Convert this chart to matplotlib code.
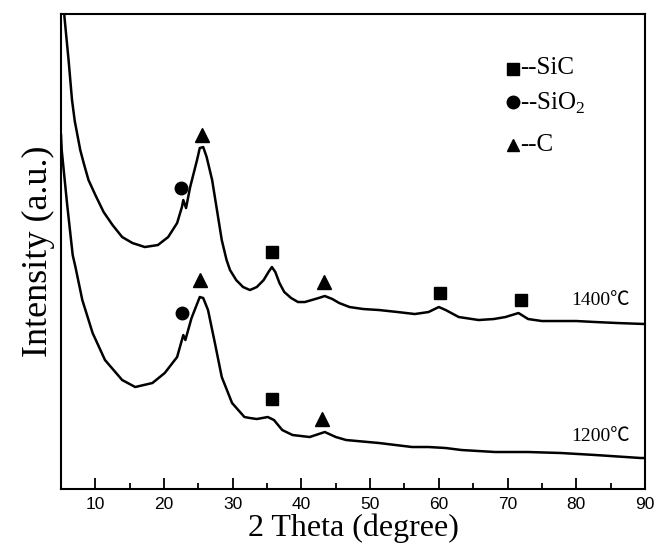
import matplotlib.pyplot as plt
from matplotlib.ticker import MultipleLocator

plt.rcParams['mathtext.fontset'] = 'custom'
plt.rcParams['mathtext.rm'] = 'Liberation Serif'

# ---------------------------------------------------------------
# XRD patterns, values (intensity in a.u.)
# ---------------------------------------------------------------
theta_1400 = [5.2, 5.5, 6.1, 6.6, 7.0, 7.8, 8.3, 9.0, 10.0, 11.2, 12.5, 13.9, 15.4, 17.2,
              19.1, 20.6, 21.9, 22.6, 22.8, 23.2, 23.8, 24.8, 25.2, 25.7, 26.2, 27.0,
              27.7, 28.4, 29.1, 29.6, 30.5, 31.5, 32.5, 33.5, 34.5, 35.2, 35.7, 36.2,
              36.8, 37.5, 38.5, 39.5, 40.5, 41.5, 42.5, 43.4, 44.5, 45.5, 47.0, 49.0,
              51.3, 54.0, 56.5, 58.5, 60.0, 61.0, 62.9, 65.8, 68.0, 69.7, 71.6, 73.0,
              75.0, 77.8, 80.0, 82.8, 86.0, 90.0]
int_1400 = [520, 472, 429, 389, 368, 339, 326, 309, 294, 277, 264, 252, 246, 242,
            244, 252, 266, 282, 289, 281, 302, 329, 341, 342, 332, 309,
            279, 249, 229, 219, 209, 202, 199, 202, 209, 217, 222, 217,
            206, 197, 191, 187, 187, 189, 191, 193, 190, 186, 182, 180,
            179, 177, 175, 177, 182, 179, 172, 169, 170, 172, 176, 170,
            168, 168, 168, 167, 166, 165]

theta_1200 = [5.0, 5.1, 5.9, 6.7, 7.1, 8.1, 9.6, 11.4, 13.9, 15.8, 18.3, 20.1, 21.9,
              22.8, 23.1, 24.0, 25.2, 25.7, 26.4, 27.4, 28.4, 29.9, 31.7, 32.5, 33.5,
              35.1, 36.0, 37.2, 38.7, 41.2, 43.4, 45.0, 46.5, 51.3, 56.1, 58.5, 61.0,
              63.3, 68.2, 73.0, 77.8, 82.8, 89.4, 90.0]
int_1200 = [354, 339, 284, 234, 222, 189, 156, 129, 109, 102, 106, 116, 132,
            154, 149, 171, 192, 191, 179, 146, 112, 86, 72, 71, 70,
            72, 69, 59, 54, 52, 57, 52, 49, 46, 42, 42, 41,
            39, 37, 37, 36, 34, 31, 31]

# phase markers (2 theta, intensity)
sic_x = [35.7, 60.1, 71.9, 35.7]
sic_y = [237, 196, 189, 90]
sio2_x = [22.5, 22.6]
sio2_y = [301, 176]
c_x = [25.5, 43.3, 25.2, 43.0]
c_y = [354, 207, 209, 70]

serif = ['Liberation Serif', 'Noto Sans CJK SC']

fig = plt.figure(figsize=(6.59, 5.51), dpi=100)
ax = fig.add_axes([0.0926, 0.1125, 0.886, 0.862])

ax.plot(theta_1400, int_1400, color='black', lw=1.8)
ax.plot(theta_1200, int_1200, color='black', lw=1.8)

ax.plot(sic_x, sic_y, 's', color='black', ms=8, ls='none')
ax.plot(sio2_x, sio2_y, 'o', color='black', ms=9, ls='none')
ax.plot(c_x, c_y, '^', color='black', ms=10, ls='none')

ax.text(87.8, 189, '1400℃', family=serif, fontsize=14, ha='right', va='center')
ax.text(87.8, 53, '1200℃', family=serif, fontsize=14, ha='right', va='center')

# hand made legend in upper right
leg_x = 0.774
ax.plot([leg_x], [0.884], 's', color='black', ms=8, transform=ax.transAxes, clip_on=False)
ax.plot([leg_x], [0.815], 'o', color='black', ms=9, transform=ax.transAxes, clip_on=False)
ax.plot([leg_x], [0.724], '^', color='black', ms=9, transform=ax.transAxes, clip_on=False)
ax.text(leg_x + 0.012, 0.886, '--SiC', family=serif, fontsize=18, va='center', transform=ax.transAxes)
ax.text(leg_x + 0.012, 0.812, '--SiO$_2$', family=serif, fontsize=18, va='center', transform=ax.transAxes)
ax.text(leg_x + 0.012, 0.724, '--C', family=serif, fontsize=18, va='center', transform=ax.transAxes)

ax.set_xlim(5, 90)
ax.set_ylim(0, 475)
ax.set_yticks([])
ax.xaxis.set_major_locator(MultipleLocator(10))
ax.xaxis.set_minor_locator(MultipleLocator(5))
ax.tick_params(axis='x', which='major', direction='in', length=8, width=1.3, pad=6,
               labelsize=12.5)
ax.tick_params(axis='x', which='minor', direction='in', length=4, width=1.3)
for lab in ax.get_xticklabels():
    lab.set_family('Liberation Sans')
for sp in ax.spines.values():
    sp.set_linewidth(1.5)

ax.set_xlabel('2 Theta (degree)', family=serif, fontsize=23, labelpad=1)
ax.set_ylabel('Intensity (a.u.)', family=serif, fontsize=26, labelpad=4)

fig.savefig('out.png', dpi=100)
